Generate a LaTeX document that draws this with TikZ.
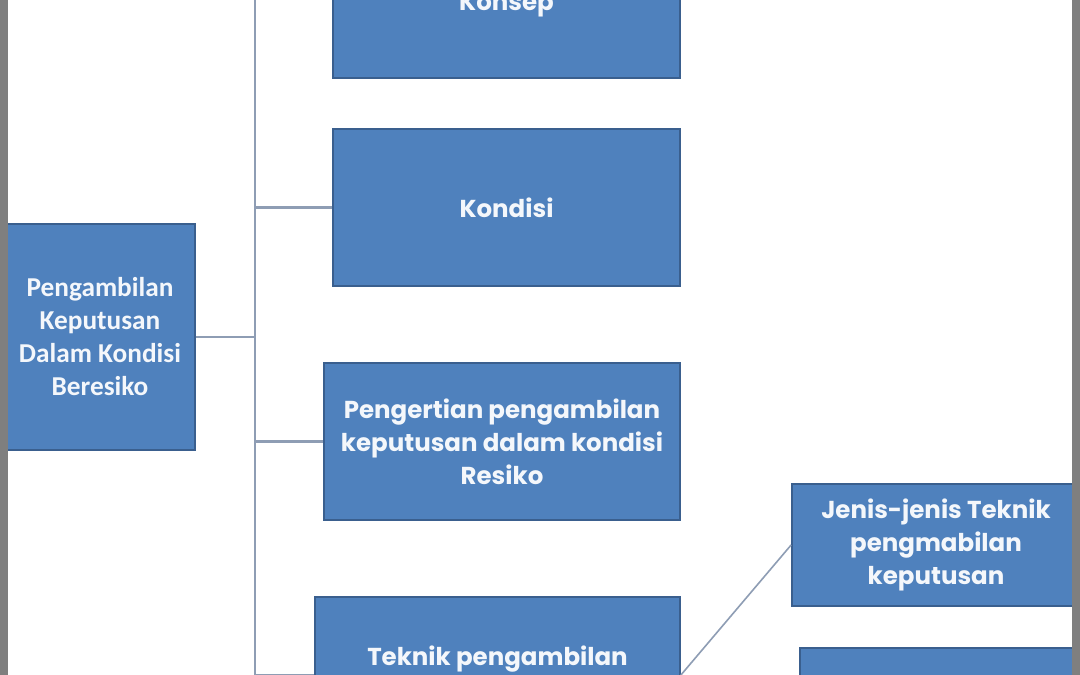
\documentclass[tikz,border=0pt]{standalone}
\usepackage{fontspec}
\setmainfont{Poppins}
\newfontfamily\rootfont{Carlito}
\definecolor{boxfill}{HTML}{4F81BD}
\definecolor{boxline}{HTML}{3A5F8E}
\definecolor{connc}{HTML}{8E9DB4}
\definecolor{framegray}{HTML}{7F7F7F}
\definecolor{boxtext}{HTML}{F4F7FB}
\tikzset{
  bluebox/.style={draw=boxline, fill=boxfill, line width=1.8pt, text=boxtext, align=center, inner sep=0pt, font=\bfseries\fontsize{24.5}{33}\selectfont},
  conn/.style={draw=connc, line width=2.2pt},
}
\begin{document}
\begin{tikzpicture}[x=1pt,y=-1pt]
\useasboundingbox (0,0) rectangle (1080,675);
\begin{scope}
\clip (0,0) rectangle (1080,675);
\fill[white] (0,0) rectangle (1080,675);
\node[bluebox, minimum width=190pt, minimum height=226pt, font=\rootfont\bfseries\fontsize{27.3}{33}\selectfont] (root) at (100,337) {Pengambilan\\Keputusan\\Dalam Kondisi\\Beresiko};
\node[bluebox, minimum width=347pt, minimum height=158pt] (konsep) at (506.5,-1) {\vphantom{Konsep}\smash{\raisebox{-6pt}{Konsep}}};
\node[bluebox, minimum width=347pt, minimum height=157pt] (kondisi) at (506.5,207.5) {Kondisi};
\node[bluebox, minimum width=356pt, minimum height=157pt] (pengertian) at (502,441.5) {Pengertian pengambilan\\keputusan dalam kondisi\\Resiko};
\node[bluebox, minimum width=365pt, minimum height=156pt] (teknik) at (497.5,675) {Teknik pengambilan\\keputusan};
\node[bluebox, minimum width=288pt, minimum height=122pt] (jenis) at (936,545) {Jenis-jenis Teknik\\pengmabilan\\keputusan};
\node[bluebox, minimum width=280pt, minimum height=122pt] (lain) at (940,709) {};
\coordinate (tr) at (255,337);
\foreach \n in {konsep,kondisi,pengertian,teknik}
  \draw[conn] (root.east) -- (tr) |- (\n.west);
\draw[conn, line width=1.6pt] (teknik.east) -- (jenis.west);
\fill[framegray] (0,0) rectangle (8,675);
\fill[framegray] (1072,0) rectangle (1080,675);
\end{scope}
\end{tikzpicture}
\end{document}
